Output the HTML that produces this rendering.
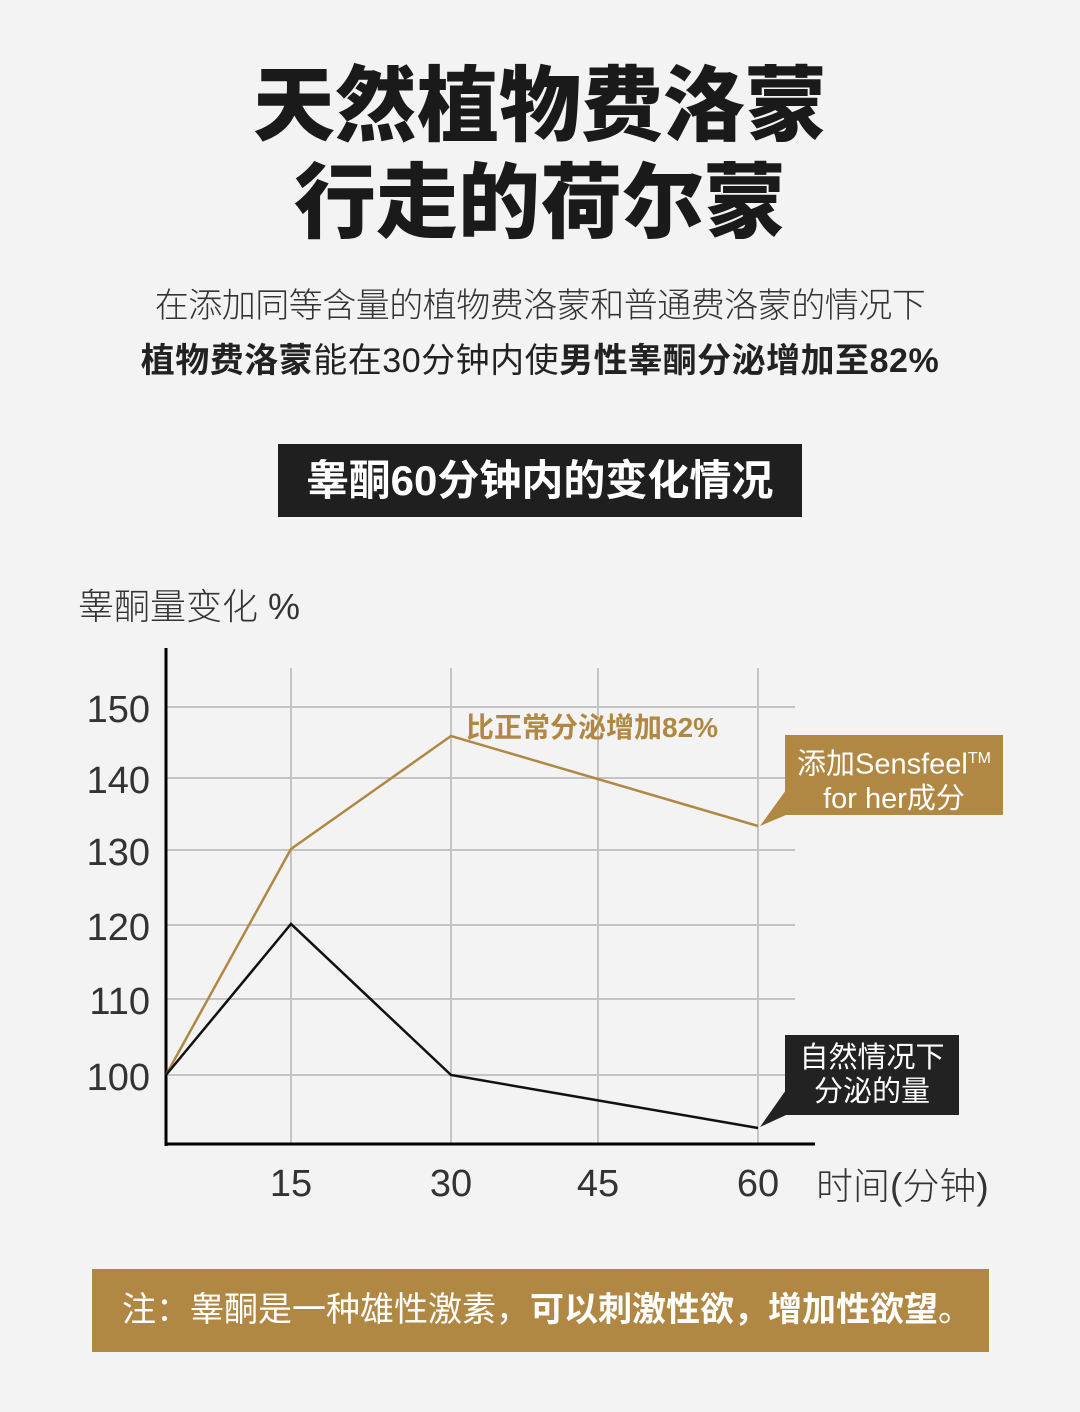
<!DOCTYPE html>
<html><head><meta charset="utf-8"><style>
body{margin:0;width:1080px;height:1412px;background:#f3f3f3;position:relative;overflow:hidden;font-family:"Liberation Sans","Noto Sans CJK SC",sans-serif;color:#222}
.a{position:absolute;white-space:nowrap}
.t{left:0;width:1080px;text-align:center;font-weight:900;font-size:82px;color:#1a1a1a;line-height:1}
</style></head><body>
<div class="a t" style="top:66px">天然植物费洛蒙</div>
<div class="a t" style="top:163px">行走的荷尔蒙</div>
<div class="a" style="left:0;width:1080px;text-align:center;top:278px;font-size:34px;color:#333;font-weight:300;letter-spacing:-0.5px">在添加同等含量的植物费洛蒙和普通费洛蒙的情况下</div>
<div class="a" style="left:0;width:1080px;text-align:center;top:333px;font-size:34px;color:#222;letter-spacing:0.5px"><b>植物费洛蒙</b>能在30分钟内使<b>男性睾酮分泌增加至82%</b></div>
<div class="a" style="left:278px;top:444px;width:524px;height:73px;background:#1f1f1f;color:#fff;font-weight:bold;font-size:42px;line-height:73px;text-align:center">睾酮60分钟内的变化情况</div>
<div class="a" style="left:78px;top:578px;font-size:36px;color:#333;font-weight:300">睾酮量变化 %</div>
<svg class="a" style="left:0;top:0" width="1080" height="1412">
<g stroke="#c4c4c4" stroke-width="2">
<line x1="166" y1="707" x2="795" y2="707"/><line x1="166" y1="778" x2="795" y2="778"/><line x1="166" y1="850" x2="795" y2="850"/><line x1="166" y1="925" x2="795" y2="925"/><line x1="166" y1="999" x2="795" y2="999"/><line x1="166" y1="1075" x2="795" y2="1075"/>
<line x1="291" y1="668" x2="291" y2="1144"/><line x1="451" y1="668" x2="451" y2="1144"/><line x1="598" y1="668" x2="598" y2="1144"/><line x1="758" y1="668" x2="758" y2="1144"/>
</g>
<line x1="166" y1="648" x2="166" y2="1146" stroke="#000" stroke-width="3"/>
<line x1="165" y1="1144" x2="815" y2="1144" stroke="#000" stroke-width="3"/>
<polyline points="166,1075 291,849 451,736 758,826" fill="none" stroke="#b08844" stroke-width="2.5"/>
<polyline points="166,1075 291,924 451,1075 758,1128" fill="none" stroke="#111" stroke-width="2.5"/>
<rect x="785" y="735" width="218" height="80" fill="#b08844"/>
<polygon points="786,790 786,815 760,826" fill="#b08844"/>
<rect x="785" y="1035" width="174" height="80" fill="#222"/>
<polygon points="786,1090 786,1115 760,1127" fill="#222"/>
<g font-family="Liberation Sans,sans-serif" font-size="38" fill="#333" font-weight="300">
<text x="150" y="722" text-anchor="end">150</text><text x="150" y="793" text-anchor="end">140</text><text x="150" y="865" text-anchor="end">130</text><text x="150" y="940" text-anchor="end">120</text><text x="150" y="1014" text-anchor="end">110</text><text x="150" y="1090" text-anchor="end">100</text>
<text x="291" y="1196" text-anchor="middle">15</text><text x="451" y="1196" text-anchor="middle">30</text><text x="598" y="1196" text-anchor="middle">45</text><text x="758" y="1196" text-anchor="middle">60</text>
</g>
</svg>
<div class="a" style="left:816px;top:1156px;font-size:37px;color:#333;font-weight:300">时间(分钟)</div>
<div class="a" style="left:466px;top:706px;font-size:28px;color:#b08844;font-weight:bold">比正常分泌增加82%</div>
<div class="a" style="left:785px;top:742px;width:218px;text-align:center;font-size:29px;color:#fff;line-height:34px">添加Sensfeel<sup style="font-size:16px">TM</sup><br>for her成分</div>
<div class="a" style="left:785px;top:1041px;width:174px;text-align:center;font-size:29px;color:#fff;line-height:34px">自然情况下<br>分泌的量</div>
<div class="a" style="left:92px;top:1269px;width:897px;height:83px;background:#b08844;color:#fff;font-size:34px;line-height:83px;padding-left:30px;box-sizing:border-box">注：睾酮是一种雄性激素，<b>可以刺激性欲，增加性欲望</b>。</div>
</body></html>
